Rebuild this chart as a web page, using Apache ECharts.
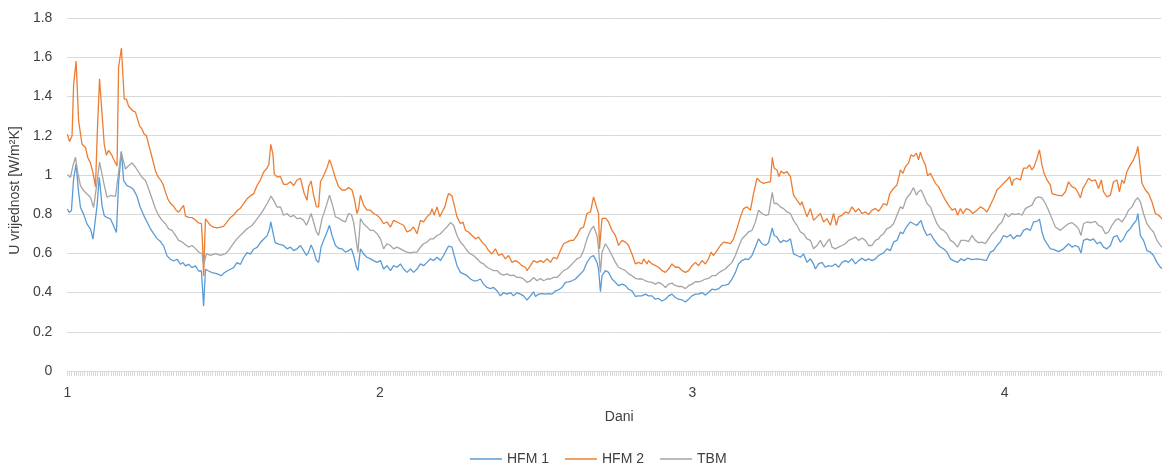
<!DOCTYPE html>
<html>
<head>
<meta charset="utf-8">
<script src="https://cdn.jsdelivr.net/npm/echarts@6/dist/echarts.min.js"></script>
<style>
  html, body { margin: 0; padding: 0; background: #fff; }
  #chart { width: 1164px; height: 466px; }
</style>
</head>
<body>
<div id="chart"></div>
<script>
// [dan, U vrijednost]
var hfm1 = [
  [1.000,0.826],[1.006,0.809],[1.013,0.817],[1.020,0.98],[1.028,1.056],[1.036,0.911],[1.042,0.834],[1.052,0.80],[1.063,0.749],[1.074,0.724],[1.082,0.672],[1.087,0.664],[1.095,0.843],[1.102,0.988],[1.111,0.843],[1.118,0.792],[1.127,0.783],[1.138,0.775],[1.148,0.741],[1.157,0.706],[1.164,0.962],[1.173,1.12],[1.180,0.971],[1.191,0.945],[1.202,0.937],[1.212,0.925],[1.223,0.89],[1.232,0.84],[1.244,0.795],[1.255,0.76],[1.266,0.725],[1.276,0.70],[1.287,0.675],[1.298,0.66],[1.308,0.638],[1.319,0.587],[1.330,0.57],[1.340,0.561],[1.351,0.57],[1.362,0.544],[1.370,0.553],[1.378,0.536],[1.388,0.544],[1.399,0.527],[1.410,0.536],[1.420,0.51],[1.429,0.51],[1.436,0.331],[1.442,0.519],[1.452,0.51],[1.463,0.502],[1.474,0.498],[1.484,0.493],[1.492,0.485],[1.500,0.498],[1.511,0.51],[1.522,0.519],[1.532,0.527],[1.543,0.553],[1.554,0.544],[1.564,0.578],[1.575,0.604],[1.586,0.596],[1.596,0.621],[1.607,0.63],[1.618,0.655],[1.628,0.672],[1.639,0.689],[1.647,0.724],[1.651,0.761],[1.658,0.706],[1.665,0.655],[1.676,0.647],
  [1.682,0.657],[1.692,0.64],[1.703,0.623],[1.714,0.632],[1.724,0.614],[1.735,0.623],[1.746,0.64],[1.756,0.614],[1.765,0.589],[1.772,0.606],[1.780,0.643],[1.788,0.614],[1.797,0.563],[1.804,0.554],[1.812,0.632],[1.820,0.666],[1.831,0.709],[1.839,0.743],[1.847,0.691],[1.858,0.64],[1.868,0.626],[1.879,0.623],[1.890,0.606],[1.900,0.614],[1.909,0.623],[1.916,0.589],[1.925,0.529],[1.930,0.512],[1.938,0.623],[1.948,0.597],[1.959,0.58],[1.970,0.572],[1.980,0.563],[1.991,0.554],[2.002,0.563],[2.012,0.52],[2.023,0.537],[2.034,0.512],[2.044,0.537],[2.055,0.529],[2.066,0.546],[2.076,0.52],[2.087,0.503],[2.098,0.52],[2.108,0.503],[2.119,0.52],[2.130,0.546],[2.140,0.537],[2.151,0.554],[2.162,0.572],[2.172,0.563],[2.183,0.58],[2.194,0.563],[2.204,0.589],[2.215,0.623],[2.220,0.637],[2.231,0.632],[2.238,0.589],[2.247,0.537],[2.258,0.503],[2.268,0.495],[2.279,0.486],[2.290,0.469],[2.300,0.46],[2.311,0.46],[2.322,0.469],[2.332,0.443],[2.343,0.426],[2.354,0.42],[2.364,0.426],[2.375,0.409],[2.386,0.383],[2.396,0.40],[2.407,0.392],[2.418,0.40],[2.428,0.383],[2.439,0.40],[2.450,0.392],[2.460,0.383],[2.471,0.361],[2.482,0.383],[2.492,0.404],[2.498,0.38],[2.508,0.392],[2.519,0.395],[2.530,0.392],[2.540,0.395],[2.551,0.392],[2.562,0.409],[2.572,0.414],[2.583,0.426],[2.594,0.452],[2.604,0.455],[2.615,0.46],[2.626,0.469],[2.636,0.486],
  [2.642,0.495],[2.652,0.512],[2.663,0.554],[2.674,0.58],[2.684,0.589],[2.695,0.554],[2.700,0.52],[2.706,0.404],[2.711,0.486],[2.722,0.512],[2.732,0.503],[2.743,0.469],[2.754,0.452],[2.764,0.435],[2.775,0.443],[2.786,0.435],[2.796,0.417],[2.807,0.409],[2.818,0.38],[2.828,0.383],[2.839,0.383],[2.850,0.392],[2.860,0.383],[2.871,0.383],[2.882,0.366],[2.892,0.37],[2.903,0.357],[2.914,0.366],[2.924,0.383],[2.935,0.392],[2.946,0.375],[2.956,0.366],[2.967,0.363],[2.978,0.352],[2.988,0.366],[2.999,0.383],[3.010,0.392],[3.020,0.392],[3.031,0.40],[3.042,0.387],[3.052,0.40],[3.063,0.417],[3.074,0.414],[3.084,0.42],[3.095,0.435],[3.106,0.438],[3.116,0.443],[3.127,0.469],[3.138,0.503],[3.148,0.546],[3.159,0.563],[3.170,0.572],[3.180,0.568],[3.191,0.589],[3.202,0.632],[3.212,0.674],[3.223,0.649],[3.234,0.64],[3.244,0.654],[3.250,0.657],[3.256,0.729],[3.262,0.691],[3.271,0.683],[3.282,0.654],[3.292,0.666],[3.303,0.66],[3.314,0.674],[3.324,0.597],[3.335,0.589],[3.346,0.58],[3.356,0.597],[3.367,0.554],[3.378,0.572],[3.388,0.546],[3.394,0.52],[3.404,0.546],[3.415,0.554],[3.426,0.529],[3.436,0.537],[3.447,0.534],[3.458,0.546],[3.468,0.529],[3.479,0.554],[3.490,0.563],[3.500,0.554],[3.511,0.572],[3.522,0.546],[3.532,0.563],[3.543,0.575],[3.554,0.563],[3.564,0.572],[3.575,0.563],[3.586,0.572],[3.596,0.589],
  [3.602,0.597],[3.612,0.602],[3.623,0.623],[3.634,0.614],[3.644,0.657],[3.655,0.666],[3.666,0.709],[3.674,0.70],[3.685,0.734],[3.698,0.76],[3.708,0.751],[3.719,0.743],[3.732,0.768],[3.740,0.726],[3.751,0.691],[3.762,0.70],[3.772,0.674],[3.783,0.649],[3.794,0.632],[3.804,0.623],[3.815,0.606],[3.826,0.572],[3.836,0.563],[3.849,0.554],[3.860,0.572],[3.870,0.563],[3.881,0.575],[3.895,0.568],[3.911,0.572],[3.927,0.568],[3.941,0.563],[3.954,0.606],[3.964,0.614],[3.975,0.64],[3.986,0.66],[3.996,0.691],[4.007,0.683],[4.018,0.695],[4.028,0.674],[4.039,0.691],[4.050,0.688],[4.060,0.717],[4.071,0.726],[4.082,0.717],[4.092,0.76],[4.103,0.763],[4.111,0.774],[4.119,0.709],[4.126,0.674],[4.135,0.649],[4.146,0.623],[4.156,0.62],[4.172,0.609],[4.188,0.623],[4.204,0.649],[4.215,0.632],[4.226,0.64],[4.236,0.632],[4.244,0.602],[4.252,0.666],[4.263,0.674],[4.274,0.666],[4.284,0.674],[4.295,0.649],[4.306,0.657],[4.316,0.632],[4.327,0.623],[4.338,0.64],[4.348,0.683],[4.359,0.691],[4.370,0.657],[4.380,0.674],[4.391,0.709],[4.402,0.726],[4.412,0.751],[4.421,0.768],[4.426,0.803],[4.434,0.691],[4.444,0.666],[4.455,0.614],[4.466,0.606],[4.476,0.589],[4.487,0.554],[4.498,0.529],[4.508,0.517]
];

var hfm2 = [
  [1.000,1.207],[1.007,1.17],[1.015,1.20],[1.020,1.46],[1.028,1.58],[1.036,1.275],[1.047,1.156],[1.058,1.14],[1.065,1.09],[1.074,1.06],[1.082,1.01],[1.090,0.94],[1.096,1.224],[1.103,1.49],[1.111,1.31],[1.118,1.156],[1.125,1.10],[1.132,1.125],[1.141,1.105],[1.148,1.08],[1.159,1.045],[1.164,1.55],[1.173,1.647],[1.182,1.386],[1.189,1.386],[1.196,1.35],[1.202,1.36],[1.210,1.326],[1.218,1.32],[1.223,1.326],[1.231,1.25],[1.239,1.233],[1.246,1.207],[1.253,1.20],[1.260,1.156],[1.271,1.09],[1.282,1.02],[1.289,0.994],[1.298,0.975],[1.306,0.952],[1.314,0.912],[1.322,0.875],[1.330,0.855],[1.340,0.84],[1.348,0.82],[1.356,0.81],[1.362,0.80],[1.372,0.844],[1.378,0.79],[1.388,0.783],[1.399,0.782],[1.410,0.77],[1.420,0.755],[1.429,0.751],[1.432,0.672],[1.436,0.485],[1.442,0.776],[1.447,0.765],[1.458,0.742],[1.468,0.734],[1.479,0.73],[1.490,0.734],[1.500,0.737],[1.511,0.76],[1.522,0.783],[1.532,0.795],[1.543,0.817],[1.554,0.83],[1.564,0.853],[1.575,0.878],[1.586,0.894],[1.596,0.903],[1.607,0.946],[1.618,0.975],[1.628,1.014],[1.639,1.035],[1.645,1.054],[1.651,1.156],[1.658,1.105],[1.662,1.005],[1.671,0.99],
  [1.682,0.991],[1.692,0.952],[1.703,0.952],[1.714,0.965],[1.724,0.945],[1.735,0.974],[1.746,0.983],[1.751,0.983],[1.758,0.905],[1.767,0.871],[1.772,0.94],[1.780,0.969],[1.788,0.897],[1.797,0.837],[1.804,0.837],[1.810,0.965],[1.820,0.996],[1.831,1.037],[1.839,1.077],[1.847,1.042],[1.858,0.983],[1.868,0.94],[1.879,0.923],[1.890,0.923],[1.900,0.935],[1.911,0.923],[1.918,0.88],[1.927,0.803],[1.932,0.828],[1.938,0.897],[1.948,0.846],[1.959,0.82],[1.970,0.82],[1.980,0.803],[1.991,0.794],[2.002,0.777],[2.012,0.751],[2.023,0.76],[2.034,0.734],[2.044,0.768],[2.055,0.76],[2.066,0.751],[2.076,0.743],[2.087,0.709],[2.098,0.717],[2.108,0.734],[2.119,0.70],[2.130,0.768],[2.140,0.76],[2.151,0.786],[2.162,0.803],[2.167,0.828],[2.174,0.794],[2.183,0.837],[2.192,0.786],[2.199,0.811],[2.208,0.837],[2.215,0.88],[2.220,0.905],[2.231,0.893],[2.238,0.846],[2.247,0.786],[2.258,0.751],[2.266,0.76],[2.274,0.717],[2.284,0.709],[2.295,0.691],[2.306,0.674],[2.316,0.683],[2.327,0.657],[2.338,0.64],[2.348,0.614],[2.359,0.597],[2.370,0.623],[2.380,0.589],[2.391,0.597],[2.402,0.572],[2.412,0.589],[2.423,0.554],[2.434,0.563],[2.444,0.554],[2.455,0.537],[2.466,0.529],[2.471,0.512],[2.482,0.537],[2.492,0.563],[2.503,0.554],[2.514,0.563],[2.524,0.554],[2.535,0.572],[2.546,0.554],[2.556,0.58],[2.567,0.572],[2.578,0.614],[2.588,0.649],[2.599,0.657],[2.610,0.666],[2.620,0.666],[2.631,0.691],
  [2.642,0.726],[2.652,0.734],[2.663,0.803],[2.674,0.811],[2.684,0.888],[2.695,0.828],[2.700,0.803],[2.703,0.623],[2.711,0.777],[2.722,0.78],[2.732,0.76],[2.743,0.717],[2.754,0.691],[2.764,0.64],[2.775,0.666],[2.786,0.657],[2.796,0.64],[2.807,0.597],[2.818,0.546],[2.828,0.554],[2.839,0.546],[2.844,0.572],[2.855,0.546],[2.860,0.563],[2.871,0.546],[2.882,0.537],[2.892,0.529],[2.903,0.512],[2.914,0.503],[2.924,0.52],[2.935,0.546],[2.946,0.529],[2.956,0.529],[2.967,0.512],[2.978,0.503],[2.988,0.512],[2.999,0.537],[3.010,0.554],[3.020,0.537],[3.031,0.563],[3.042,0.546],[3.052,0.572],[3.060,0.606],[3.068,0.589],[3.079,0.614],[3.090,0.64],[3.100,0.657],[3.111,0.654],[3.122,0.649],[3.132,0.674],[3.143,0.726],[3.154,0.786],[3.164,0.828],[3.175,0.837],[3.186,0.82],[3.196,0.905],[3.207,0.983],[3.218,0.965],[3.228,0.957],[3.239,0.962],[3.250,0.965],[3.256,1.089],[3.262,1.034],[3.271,1.025],[3.277,0.991],[3.284,1.02],[3.292,1.008],[3.303,1.017],[3.314,0.991],[3.324,0.897],[3.335,0.871],[3.346,0.846],[3.351,0.863],[3.358,0.828],[3.367,0.786],[3.378,0.828],[3.388,0.768],[3.399,0.786],[3.410,0.803],[3.420,0.76],[3.431,0.777],[3.442,0.743],[3.452,0.803],[3.461,0.743],[3.468,0.786],[3.479,0.794],[3.490,0.811],[3.500,0.803],[3.511,0.837],[3.522,0.811],[3.532,0.828],[3.543,0.803],[3.554,0.811],[3.564,0.798],[3.575,0.82],[3.586,0.828],[3.596,0.815],
  [3.602,0.828],[3.612,0.854],[3.623,0.846],[3.632,0.905],[3.644,0.931],[3.655,0.948],[3.666,1.025],[3.674,1.008],[3.682,1.042],[3.692,1.06],[3.700,1.102],[3.708,1.094],[3.717,1.111],[3.724,1.077],[3.730,1.116],[3.738,1.077],[3.746,1.051],[3.753,0.996],[3.762,1.008],[3.770,0.983],[3.778,0.957],[3.788,0.94],[3.799,0.905],[3.810,0.871],[3.820,0.846],[3.831,0.82],[3.842,0.828],[3.849,0.794],[3.858,0.828],[3.866,0.803],[3.877,0.828],[3.888,0.82],[3.898,0.803],[3.911,0.82],[3.922,0.837],[3.932,0.828],[3.943,0.811],[3.954,0.846],[3.964,0.88],[3.975,0.923],[3.986,0.94],[3.996,0.957],[4.007,0.974],[4.016,0.991],[4.023,0.945],[4.028,0.974],[4.039,0.983],[4.050,0.974],[4.060,1.034],[4.071,1.034],[4.079,1.051],[4.087,1.025],[4.094,1.042],[4.103,1.085],[4.111,1.128],[4.119,1.051],[4.126,1.008],[4.135,0.974],[4.146,0.948],[4.151,0.905],[4.167,0.897],[4.183,0.893],[4.194,0.914],[4.204,0.965],[4.215,0.94],[4.226,0.931],[4.233,0.914],[4.242,0.883],[4.250,0.931],[4.258,0.952],[4.268,0.983],[4.279,0.969],[4.290,0.974],[4.300,0.931],[4.309,0.974],[4.316,0.914],[4.327,0.888],[4.338,0.897],[4.348,0.965],[4.359,0.974],[4.367,0.914],[4.375,0.974],[4.382,0.957],[4.391,1.017],[4.402,1.051],[4.412,1.077],[4.421,1.111],[4.426,1.145],[4.432,1.06],[4.439,0.957],[4.450,0.923],[4.460,0.905],[4.471,0.863],[4.482,0.803],[4.492,0.794],[4.503,0.777],[4.510,0.76]
];

var tbm = [
  [1.000,1.0],[1.010,0.988],[1.018,1.048],[1.026,1.09],[1.033,1.014],[1.042,0.945],[1.052,0.92],[1.063,0.903],[1.074,0.886],[1.084,0.834],[1.090,0.826],[1.095,0.962],[1.103,1.065],[1.116,0.963],[1.127,0.886],[1.138,0.895],[1.154,0.89],[1.162,0.99],[1.172,1.115],[1.186,1.03],[1.196,1.047],[1.207,1.061],[1.218,1.039],[1.228,1.014],[1.239,0.988],[1.250,0.971],[1.260,0.929],[1.271,0.878],[1.282,0.827],[1.292,0.793],[1.303,0.768],[1.314,0.751],[1.324,0.725],[1.335,0.717],[1.346,0.692],[1.356,0.666],[1.367,0.658],[1.378,0.644],[1.388,0.632],[1.399,0.64],[1.410,0.624],[1.420,0.607],[1.431,0.598],[1.436,0.54],[1.445,0.598],[1.458,0.59],[1.474,0.598],[1.490,0.59],[1.506,0.598],[1.516,0.615],[1.527,0.64],[1.543,0.675],[1.559,0.70],[1.575,0.725],[1.591,0.742],[1.607,0.776],[1.623,0.81],[1.639,0.853],[1.652,0.892],[1.660,0.87],[1.671,0.836],
  [1.682,0.837],[1.692,0.794],[1.703,0.803],[1.714,0.786],[1.724,0.794],[1.735,0.777],[1.746,0.78],[1.756,0.768],[1.765,0.743],[1.772,0.768],[1.780,0.803],[1.788,0.76],[1.797,0.709],[1.804,0.691],[1.815,0.777],[1.826,0.828],[1.839,0.897],[1.850,0.837],[1.858,0.786],[1.868,0.78],[1.879,0.768],[1.890,0.76],[1.900,0.803],[1.909,0.798],[1.916,0.76],[1.925,0.657],[1.930,0.606],[1.938,0.777],[1.948,0.751],[1.959,0.734],[1.970,0.717],[1.980,0.717],[1.991,0.70],[2.002,0.674],[2.012,0.623],[2.023,0.649],[2.034,0.64],[2.044,0.623],[2.055,0.632],[2.066,0.623],[2.076,0.614],[2.087,0.606],[2.098,0.602],[2.108,0.606],[2.119,0.606],[2.130,0.632],[2.140,0.649],[2.151,0.657],[2.162,0.674],[2.172,0.674],[2.183,0.691],[2.194,0.70],[2.204,0.717],[2.215,0.734],[2.226,0.757],[2.236,0.743],[2.247,0.691],[2.258,0.657],[2.268,0.64],[2.279,0.614],[2.290,0.597],[2.300,0.589],[2.311,0.572],[2.322,0.554],[2.332,0.546],[2.343,0.529],[2.354,0.52],[2.364,0.512],[2.375,0.512],[2.386,0.495],[2.396,0.489],[2.407,0.495],[2.418,0.486],[2.428,0.489],[2.439,0.477],[2.450,0.477],[2.460,0.469],[2.471,0.452],[2.482,0.46],[2.492,0.477],[2.503,0.46],[2.514,0.472],[2.524,0.46],[2.535,0.469],[2.546,0.469],[2.556,0.477],[2.567,0.477],[2.578,0.495],[2.588,0.512],[2.599,0.52],[2.610,0.537],[2.620,0.554],[2.631,0.572],
  [2.642,0.58],[2.652,0.614],[2.663,0.674],[2.674,0.717],[2.684,0.739],[2.695,0.691],[2.700,0.623],[2.706,0.503],[2.711,0.606],[2.722,0.649],[2.732,0.623],[2.743,0.589],[2.754,0.554],[2.764,0.529],[2.775,0.52],[2.786,0.512],[2.796,0.495],[2.807,0.486],[2.818,0.472],[2.828,0.469],[2.839,0.469],[2.850,0.46],[2.860,0.455],[2.871,0.452],[2.882,0.443],[2.892,0.452],[2.903,0.443],[2.914,0.426],[2.924,0.443],[2.935,0.448],[2.946,0.435],[2.956,0.431],[2.967,0.431],[2.978,0.42],[2.988,0.435],[2.999,0.443],[3.010,0.455],[3.020,0.455],[3.031,0.46],[3.042,0.469],[3.052,0.472],[3.063,0.486],[3.074,0.486],[3.084,0.50],[3.095,0.512],[3.106,0.52],[3.116,0.537],[3.127,0.554],[3.138,0.589],[3.148,0.632],[3.159,0.674],[3.170,0.691],[3.180,0.709],[3.191,0.717],[3.202,0.76],[3.212,0.82],[3.223,0.803],[3.234,0.794],[3.244,0.798],[3.250,0.803],[3.256,0.911],[3.262,0.854],[3.271,0.854],[3.282,0.837],[3.292,0.828],[3.303,0.811],[3.314,0.803],[3.324,0.768],[3.335,0.743],[3.346,0.709],[3.356,0.70],[3.367,0.674],[3.378,0.666],[3.388,0.623],[3.399,0.64],[3.410,0.666],[3.420,0.632],[3.431,0.657],[3.439,0.674],[3.447,0.632],[3.458,0.623],[3.468,0.632],[3.479,0.64],[3.490,0.649],[3.500,0.666],[3.511,0.674],[3.522,0.683],[3.532,0.666],[3.543,0.678],[3.554,0.666],[3.564,0.64],[3.575,0.64],[3.586,0.666],[3.596,0.674],
  [3.602,0.688],[3.612,0.70],[3.623,0.726],[3.634,0.734],[3.644,0.751],[3.655,0.794],[3.666,0.837],[3.674,0.828],[3.685,0.88],[3.698,0.905],[3.708,0.935],[3.717,0.897],[3.724,0.914],[3.732,0.923],[3.740,0.897],[3.751,0.854],[3.762,0.837],[3.772,0.794],[3.783,0.751],[3.794,0.726],[3.804,0.717],[3.815,0.70],[3.826,0.666],[3.836,0.657],[3.849,0.632],[3.860,0.666],[3.874,0.666],[3.884,0.66],[3.895,0.691],[3.906,0.666],[3.916,0.654],[3.927,0.657],[3.938,0.649],[3.948,0.674],[3.959,0.70],[3.970,0.717],[3.980,0.743],[3.991,0.76],[4.002,0.803],[4.012,0.786],[4.023,0.803],[4.034,0.798],[4.044,0.803],[4.055,0.794],[4.066,0.828],[4.076,0.837],[4.087,0.846],[4.098,0.88],[4.108,0.888],[4.119,0.883],[4.130,0.854],[4.140,0.82],[4.151,0.777],[4.162,0.734],[4.178,0.717],[4.190,0.734],[4.204,0.751],[4.215,0.756],[4.226,0.743],[4.236,0.726],[4.244,0.691],[4.252,0.751],[4.263,0.76],[4.276,0.756],[4.290,0.763],[4.300,0.743],[4.311,0.734],[4.322,0.70],[4.332,0.709],[4.343,0.743],[4.354,0.768],[4.364,0.777],[4.375,0.76],[4.386,0.786],[4.396,0.82],[4.407,0.837],[4.418,0.871],[4.426,0.883],[4.434,0.863],[4.444,0.803],[4.455,0.751],[4.466,0.726],[4.476,0.709],[4.487,0.666],[4.498,0.64],[4.508,0.626]
];

var seriesNames = ['HFM 1', 'HFM 2', 'TBM'];
var seriesColors = ['#5B9BD5', '#ED7D31', '#A5A5A5'];

var chart = echarts.init(document.getElementById('chart'));
var font = '"Liberation Sans", Arial, sans-serif';
var textColor = '#404040';
var gridColor = '#D9D9D9';

function line(name, data, color) {
  return {
    name: name,
    type: 'line',
    data: data,
    symbol: 'none',
    smooth: false,
    lineStyle: { color: color, width: 1.3 },
    itemStyle: { color: color }
  };
}

var option = {
  animation: false,
  grid: { left: 67, right: 3, top: 18, bottom: 95 },
  legend: {
    data: seriesNames,
    icon: 'rect',
    left: 465,
    top: 447,
    itemWidth: 32,
    itemHeight: 1.5,
    itemGap: 16,
    textStyle: { fontFamily: font, fontSize: 14, color: textColor }
  },
  xAxis: {
    type: 'value',
    min: 1,
    max: 4.5,
    interval: 0.5,
    name: 'Dani',
    nameLocation: 'middle',
    nameGap: 39,
    nameTextStyle: { fontFamily: font, fontSize: 14, color: textColor, padding: [0, 0, 0, 10] },
    axisLine: { lineStyle: { color: gridColor, width: 1 } },
    axisTick: { show: true, length: 5, lineStyle: { color: gridColor } },
    minorTick: { show: true, splitNumber: 72, length: 5, lineStyle: { color: gridColor } },
    splitLine: { show: false },
    axisLabel: {
      margin: 15,
      fontFamily: font,
      fontSize: 14,
      color: textColor,
      formatter: function (v) {
        return Math.abs(v - Math.round(v)) < 1e-6 ? String(Math.round(v)) : '';
      }
    }
  },
  yAxis: {
    type: 'value',
    min: 0,
    max: 1.8,
    interval: 0.2,
    name: 'U vrijednost [W/m²K]',
    nameLocation: 'middle',
    nameRotate: 90,
    nameGap: 38,
    nameTextStyle: { fontFamily: font, fontSize: 14, color: textColor, padding: [0, 0, 0, 8] },
    axisLine: { show: false },
    axisTick: { show: false },
    splitLine: { lineStyle: { color: gridColor, width: 1 } },
    axisLabel: {
      margin: 15,
      fontFamily: font,
      fontSize: 14,
      color: textColor,
      formatter: function (v) {
        return String(Math.round(v * 10) / 10);
      }
    }
  },
  series: [
    line(seriesNames[0], hfm1, seriesColors[0]),
    line(seriesNames[1], hfm2, seriesColors[1]),
    line(seriesNames[2], tbm, seriesColors[2])
  ]
};

chart.setOption(option);
</script>
</body>
</html>
